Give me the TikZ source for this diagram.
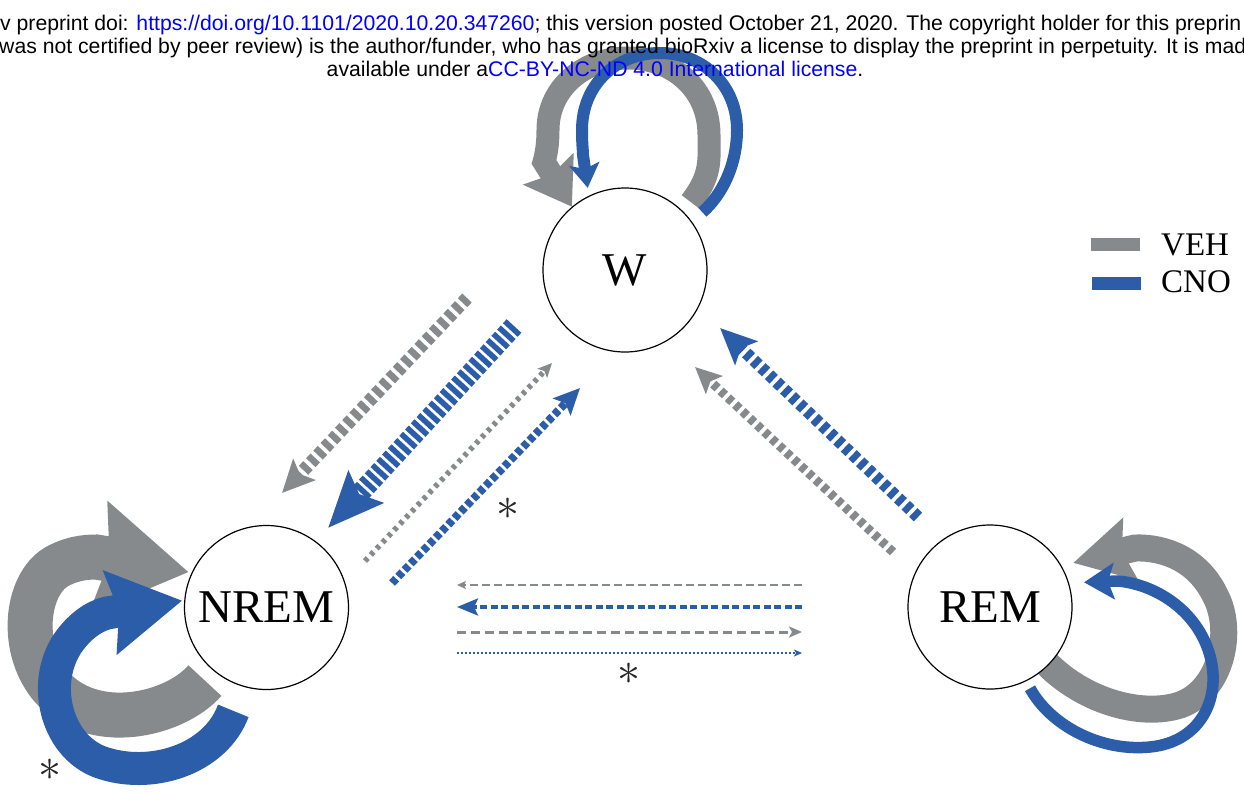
\documentclass[tikz,border=0pt]{standalone}
\usepackage{fontspec}
\setmainfont{Liberation Serif}
\newfontfamily\hdrfont{Liberation Sans}
\usetikzlibrary{arrows.meta,calc}
\definecolor{veh}{RGB}{135,138,141}
\definecolor{cno}{RGB}{44,93,168}
\definecolor{lnk}{RGB}{0,0,255}
\pgfdeclarelayer{bg}
\pgfsetlayers{bg,main}
\begin{document}
\begin{tikzpicture}[x=1pt,y=-1pt,
  state/.style={circle,draw=black,line width=1.2pt,fill=white,minimum size=164pt,inner sep=0pt,font=\fontsize{47}{47}\selectfont},
  hdr/.style={inner sep=0pt,font=\hdrfont\fontsize{21.2}{23}\selectfont},
  legtxt/.style={inner sep=0pt,anchor=base west,font=\fontsize{33}{33}\selectfont},
  legbar/.style={inner sep=0pt,minimum width=49pt,minimum height=13pt},
  astmark/.style={inner sep=0pt,scale=4.6,text=black!85},
  vehloop/.style={veh,line cap=butt},
  cnoloop/.style={cno,line cap=butt}
]
\useasboundingbox (0,0) rectangle (1244,792);
\clip (0,0) rectangle (1244,792);

% states
\node[state] (W) at (625,270) {W};
\node[state] (NREM) at (266.5,607.5) {NREM};
\node[state] (REM) at (990,607) {REM};

% header text
\node[hdr,anchor=base west] (h1) at (0,31) {v preprint doi: \textcolor{lnk}{https://doi.org/10.1101/2020.10.20.347260}; this version posted October 21, 2020. The copyright holder for this preprin};
\node[hdr,anchor=base west] (h2) at (-1,53.5) {was not certified by peer review) is the author/funder, who has granted bioRxiv a license to display the preprint in perpetuity. It is mad};
\node[hdr,anchor=base] (h3) at (595,76) {available under a\textcolor{lnk}{CC-BY-NC-ND 4.0 International license}.};

% legend
\node[legbar,fill=veh] (lbVEH) at (1115,244.5) {};
\node[legbar,fill=cno] (lbCNO) at (1116,283) {};
\node[legtxt] (tVEH) at (1161,255) {VEH};
\node[legtxt] (tCNO) at (1161,292) {CNO};

% asterisks
\node[astmark] (ast1) at (508,509) {$\ast$};
\node[astmark] (ast2) at (629,674) {$\ast$};
\node[astmark] (ast3) at (50,770) {$\ast$};

% coordinates for parallel connectors
\coordinate (a1s) at (467,298); \coordinate (a1e) at (282,493);
\coordinate (a2s) at (514,326); \coordinate (a2e) at (328,528);
\coordinate (a3s) at (365,561); \coordinate (a3e) at (552,363);
\coordinate (a4s) at (392,583); \coordinate (a4e) at (580,388);
\coordinate (a5s) at (918,517); \coordinate (a5e) at (720,328);
\coordinate (a6s) at (893,552); \coordinate (a6e) at (695,367);
\coordinate (h1s) at (802,585); \coordinate (h1e) at (457,585);
\coordinate (h2s) at (802,607); \coordinate (h2e) at (457,607);
\coordinate (h3s) at (457,632); \coordinate (h3e) at (802,632);
\coordinate (h4s) at (457,653); \coordinate (h4e) at (802,653);

\begin{pgfonlayer}{bg}
% W self loops
\draw[vehloop,line width=23pt,-{Stealth[length=44pt,width=58pt,inset=6pt]},shorten <=12pt]
 (W.45) .. controls (712,175) and (709,160) .. (709,135)
 .. controls (709,88) and (672,58) .. (628,58)
 .. controls (584,58) and (548,88) .. (548,130)
 .. controls (548,145) and (546,155) .. (544,162) -- (W.130);
\draw[cnoloop,line width=12pt,-{Stealth[length=24pt,width=30pt,inset=5pt]},shorten <=14pt,shorten >=8pt]
 (W.36) .. controls (722,195) and (737,165) .. (737,130)
 .. controls (737,85) and (703,53) .. (660,53)
 .. controls (616,53) and (582,85) .. (582,130)
 .. controls (582,145) and (583,150) .. (583,155) -- (W.116);
% NREM self loops
\draw[vehloop,line width=45pt,-{Stealth[length=90pt,width=110pt,inset=10pt]},shorten <=13pt,shorten >=3pt]
 (NREM.230) .. controls (175,715) and (92,735) .. (50,685)
 .. controls (18,645) and (27,580) .. (60,565)
 .. controls (72,559) and (84,557) .. (96,557) -- (NREM.155);
\draw[cnoloop,line width=33pt,-{Stealth[length=72pt,width=82pt,inset=8pt]},shorten <=26pt,shorten >=2pt]
 (NREM.253) .. controls (215,760) and (150,780) .. (100,762)
 .. controls (55,745) and (40,680) .. (70,640)
 .. controls (80,627) and (92,617) .. (107,613) -- (NREM.175);
% REM self loops
\draw[vehloop,line width=27pt,-{Stealth[length=58pt,width=62pt,inset=8pt]},shorten <=-8pt,shorten >=12pt]
 (REM.315) .. controls (1080,700) and (1140,718) .. (1180,705)
 .. controls (1222,690) and (1234,630) .. (1215,595)
 .. controls (1198,560) and (1165,547) .. (1135,548) -- (REM.30);
\draw[cnoloop,line width=11.5pt,-{Stealth[length=30pt,width=36pt,inset=6pt]},shorten <=8pt,shorten >=15pt]
 (REM.296) .. controls (1050,725) and (1100,752) .. (1150,747)
 .. controls (1200,742) and (1220,700) .. (1211,660)
 .. controls (1201,615) and (1160,585) .. (1118,581) -- (REM.17);
\end{pgfonlayer}

% W <-> NREM
\draw[veh,line width=13pt,dash pattern=on 6.5pt off 4pt,-{Stealth[length=32pt,width=30pt,inset=6pt]}] (a1s) -- (a1e);
\draw[cno,line width=20pt,dash pattern=on 5.5pt off 3pt,-{Stealth[length=55pt,width=46pt,inset=9pt]}] (a2s) -- (a2e);
\draw[veh,line width=5.5pt,dash pattern=on 4pt off 4.5pt,-{Stealth[length=14pt,width=13pt,inset=3pt]}] (a3s) -- (a3e);
\draw[cno,line width=8pt,dash pattern=on 6pt off 3pt,-{Stealth[length=26pt,width=24pt,inset=5pt]}] (a4s) -- (a4e);
% REM -> W
\draw[cno,line width=12pt,dash pattern=on 6.5pt off 4pt,-{Stealth[length=36pt,width=32pt,inset=7pt]}] (a5s) -- (a5e);
\draw[veh,line width=9pt,dash pattern=on 6pt off 4pt,-{Stealth[length=26pt,width=24pt,inset=5pt]}] (a6s) -- (a6e);
% REM <-> NREM
\draw[veh,line width=1.5pt,dash pattern=on 8pt off 4pt,-{Stealth[length=9pt,width=8pt,inset=2pt]}] (h1s) -- (h1e);
\draw[cno,line width=3.5pt,dash pattern=on 7pt off 3.5pt,-{Stealth[length=21pt,width=17pt,inset=4pt]}] (h2s) -- (h2e);
\draw[veh,line width=3pt,dash pattern=on 9pt off 5pt,-{Stealth[length=13pt,width=11pt,inset=3pt]}] (h3s) -- (h3e);
\draw[cno,line width=1.5pt,dash pattern=on 2pt off 2pt,-{Stealth[length=8pt,width=7pt,inset=2pt]}] (h4s) -- (h4e);
\end{tikzpicture}
\end{document}
